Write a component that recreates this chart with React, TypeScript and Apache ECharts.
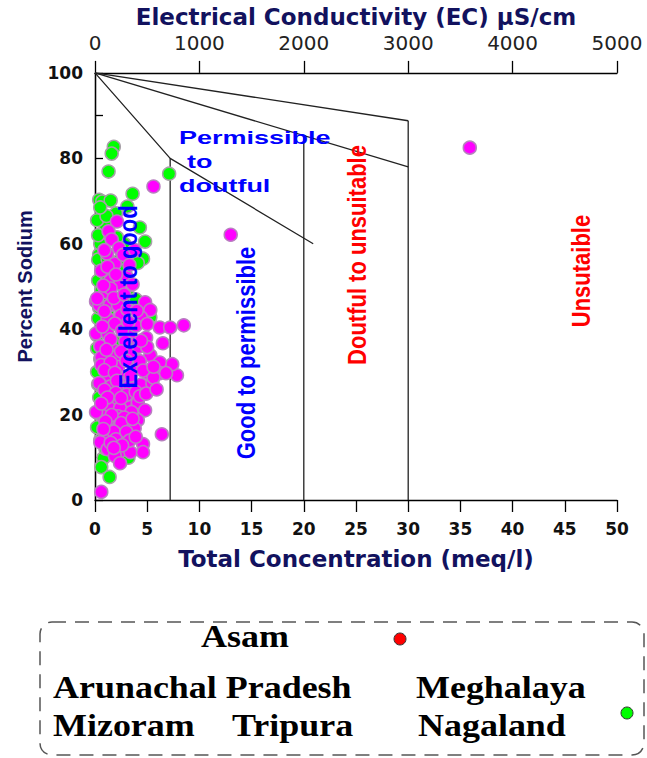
import React, { useEffect, useRef } from "react";
import * as echarts from "echarts";

// EC scale (top axis) ticks
const ecTicks = [0, 1000, 2000, 3000, 4000, 5000];

// Scatter data: [Total Concentration meq/l, Percent Sodium]
const greenPoints: number[][] = [
  [1.8, 82.7], [1.6, 81.1], [1.3, 76.9], [7.1, 76.4], [3.6, 71.7], [0.4, 70.3], [0.7, 69.9],
  [1.5, 70.1], [3.1, 68.7], [2.0, 67.1], [0.9, 64.7], [4.3, 63.8], [4.8, 60.5], [0.4, 57.5],
  [0.3, 56.3], [1.2, 56.5], [2.4, 56.3], [4.6, 56.5], [0.3, 51.4], [2.5, 53.7], [0.6, 49],
  [3.4, 47.4], [0.3, 42.5], [5.3, 42.8], [1.9, 37], [0.2, 38.5], [0.5, 33], [0.3, 27.1],
  [0.3, 20.3], [0.5, 14], [0.8, 9.8], [3.2, 9.9], [0.6, 7.7], [1.4, 5.4], [0.2, 35.5],
  [0.4, 45], [0.2, 30], [0.4, 24], [0.2, 17], [1.0, 12], [2.5, 12.5], [1.8, 18], [3.5, 22],
  [0.8, 40], [1.2, 44], [0.5, 60], [2.8, 60], [1.0, 53], [0.7, 47.5], [3.9, 47], [2.8, 42],
  [1.5, 29], [4.1, 55.5], [2.1, 61.5], [0.2, 65.5], [0.3, 62], [1.1, 66.5], [0.5, 68.5],
];

const magentaPoints: number[][] = [
  [35.9, 82.5], [13.0, 62.1], [8.5, 40.9], [6.4, 15.4], [5.6, 73.4], [7.85, 29.2], [7.4, 31.8],
  [6.5, 36.7], [6.2, 40.4], [7.2, 40.4],
  [2.1, 65.2], [1.3, 62.9], [1.6, 61], [1.15, 57.7], [2.3, 59], [3.8, 58.5], [1.9, 55.3],
  [0.6, 53.7], [1.5, 51.4], [2.4, 50.6], [3.0, 52.4], [1.0, 48.7], [1.5, 49.5], [0.1, 46.5],
  [0.4, 45.6], [1.4, 45.6], [2.2, 45.6], [4.8, 46.3], [5.3, 44.5], [1.2, 42.5], [2.5, 43.2],
  [4.4, 42.8], [0.1, 39], [1.2, 39], [3.4, 38.5], [4.9, 38], [0.5, 36], [1.8, 35], [3.4, 36.5],
  [0.6, 33.4], [1.9, 33.4], [3.4, 34.3], [5.3, 33.9], [6.2, 32.2], [0.6, 31.6], [2.2, 31.1],
  [3.8, 30.9], [5.1, 29.7], [6.2, 29.7], [1.2, 29.2], [2.8, 28.5], [0.4, 27.4], [1.5, 26.6],
  [2.6, 27.1], [3.3, 26.6], [4.4, 27], [5.5, 27.3], [5.6, 28.7],
  [1.7, 23.4], [2.9, 22.9], [4.1, 22.9], [1.4, 21.5], [2.4, 21.5], [4.8, 21], [0.8, 19.6],
  [2.2, 19.6], [4.1, 18.7], [3.2, 17.6], [1.3, 17.3], [2.2, 16.8], [3.8, 16.8], [1.0, 15.2],
  [2.7, 15], [0.5, 13.5], [1.2, 11.9], [2.4, 11.4], [3.4, 11.2], [4.6, 13.1], [4.6, 11.2],
  [1.9, 10.3], [2.4, 8.6], [0.6, 1.9], [0.1, 20.6], [0.2, 47.2],
  [0.9, 58.5], [2.7, 57.4], [1.2, 54.6], [3.3, 55], [0.8, 50.2], [2.0, 52.8], [3.6, 50.5],
  [1.8, 47.3], [2.8, 48.1], [0.9, 44.2], [3.1, 44.6], [1.9, 41.3], [3.9, 40.8], [0.7, 40.6],
  [2.6, 39.7], [1.5, 37.6], [2.9, 37.1], [4.2, 35.9], [1.1, 35.2], [2.5, 34.8], [4.3, 32.5],
  [1.5, 32.2], [3.0, 32.6], [0.9, 30.4], [1.9, 29.8], [3.4, 29.1], [4.6, 30.3], [2.1, 27.9],
  [0.9, 25.8], [2.0, 25.1], [3.0, 24.6], [3.9, 25.3], [1.2, 24], [2.5, 23.9], [0.6, 22.6],
  [3.5, 20.6], [1.6, 19.9], [2.8, 19.3], [1.0, 18.4], [2.5, 18], [3.6, 19], [1.8, 16],
  [3.0, 15.9], [0.8, 16.6], [2.0, 14.2], [3.3, 13.9], [1.5, 13.4], [2.6, 12.8], [1.8, 12.2],
  [3.9, 14.8], [4.3, 24.3], [4.9, 24.9], [5.9, 25.9], [5.0, 35.8], [5.6, 31.2], [4.4, 37.3],
  [4.0, 44.3], [3.2, 41.6], [5.0, 41.2], [6.8, 29.7],
];

// Classification boundary lines (meq/l, %Na)
const boundaryLines: number[][][] = [
  [[0, 100], [7.2, 80], [20.9, 60]],
  [[0, 100], [30, 78]],
  [[0, 100], [30, 88.8]],
  [[7.2, 80], [7.2, 0]],
  [[20, 85.3], [20, 0]],
  [[30, 88.8], [30, 0]],
];

const legendRow1 = ["Asam"];
const legendRow2 = ["Arunachal Pradesh", "Meghalaya"];
const legendRow3 = ["Mizoram", "Tripura", "Nagaland"];

const NAVY = "#12125e";
const SANS = '"Liberation Sans", Arial, sans-serif';
const WIDE = '"DejaVu Sans", sans-serif';
const SERIF = '"Liberation Serif", "Times New Roman", serif';

export default function App() {
  const ref = useRef<HTMLDivElement>(null);
  useEffect(() => {
    if (!ref.current) return;
    const chart = echarts.init(ref.current, undefined, { renderer: "svg" });
    const blueFont = `bold 22px ${SANS}`;
    const rotText = (text: string, x: number, y: number, fill: string) => ({
      type: "text",
      x,
      y,
      z: 100,
      rotation: Math.PI / 2,
      scaleY: 1.2,
      style: { text, fill, font: blueFont, textAlign: "center", textVerticalAlign: "middle", align: "center", verticalAlign: "middle" },
    });
    const legText = (text: string, x: number, y: number) => ({
      type: "text",
      x,
      y,
      z: 100,
      scaleX: 1.16,
      style: { text, fill: "#000", font: `bold 31px ${SERIF}`, textAlign: "left", textVerticalAlign: "middle", align: "left", verticalAlign: "middle" },
    });
    const permText = (text: string, x: number, y: number) => ({
      type: "text",
      x,
      y,
      z: 100,
      scaleX: 1.42,
      style: { text, fill: "#0000ff", font: `bold 19px ${SANS}`, textAlign: "left", textVerticalAlign: "middle", align: "left", verticalAlign: "middle" },
    });

    chart.setOption({
      animation: false,
      backgroundColor: "#ffffff",
      grid: { left: 95, right: 30, top: 72, bottom: 258, containLabel: false },
      xAxis: [
        {
          type: "value",
          position: "bottom",
          min: 0,
          max: 50,
          interval: 5,
          name: "Total Concentration (meq/l)",
          nameLocation: "middle",
          nameGap: 47,
          nameTextStyle: { color: NAVY, fontWeight: "bold", fontSize: 23, fontFamily: WIDE },
          axisLine: { show: true, lineStyle: { color: "#000", width: 1.3 } },
          axisTick: { show: true, inside: false, length: 12, lineStyle: { color: "#000", width: 1.3 } },
          axisLabel: { color: "#111", fontWeight: "bold", fontSize: 17, fontFamily: WIDE, margin: 20 },
          splitLine: { show: false },
        },
        {
          type: "value",
          position: "top",
          min: 0,
          max: 5000,
          interval: 1000,
          name: "Electrical Conductivity (EC) µS/cm",
          nameLocation: "middle",
          nameGap: 44,
          nameTextStyle: { color: NAVY, fontWeight: "bold", fontSize: 23, fontFamily: WIDE },
          axisLine: { show: true, onZero: false, lineStyle: { color: "#000", width: 1.3 } },
          axisTick: { show: true, inside: false, length: 12, lineStyle: { color: "#000", width: 1.3 } },
          axisLabel: {
            color: "#222",
            fontSize: 20,
            fontFamily: WIDE,
            margin: 20,
            formatter: (v: number) => (ecTicks.includes(v) ? String(v) : ""),
          },
          splitLine: { show: false },
        },
      ],
      yAxis: [
        {
          type: "value",
          min: 0,
          max: 100,
          interval: 10,
          name: "Percent Sodium",
          nameLocation: "middle",
          nameGap: 60,
          nameRotate: 90,
          nameTextStyle: { color: NAVY, fontWeight: "bold", fontSize: 20, fontFamily: SANS },
          axisLine: { show: true, lineStyle: { color: "#000", width: 1.3 } },
          axisTick: { show: true, inside: true, length: 8, lineStyle: { color: "#000", width: 1.3 } },
          axisLabel: {
            color: "#111",
            fontWeight: "bold",
            fontSize: 17,
            fontFamily: WIDE,
            margin: 12,
            formatter: (v: number) => (v % 20 === 0 ? String(v) : ""),
          },
          splitLine: { show: false },
        },
        {
          type: "value",
          position: "right",
          min: 0,
          max: 100,
          interval: 10,
          axisLine: { show: true, lineStyle: { color: "#000", width: 1.3 } },
          axisTick: { show: false },
          axisLabel: { show: false },
          splitLine: { show: false },
        },
      ],
      series: [
        ...boundaryLines.map((seg, i) => ({
          name: "boundary" + i,
          type: "line",
          xAxisIndex: 0,
          yAxisIndex: 0,
          data: seg,
          symbol: "none",
          silent: true,
          lineStyle: { color: "#222", width: 1.3 },
          z: 1,
        })),
        {
          name: "Meghalaya / Nagaland",
          type: "scatter",
          xAxisIndex: 0,
          yAxisIndex: 0,
          data: greenPoints,
          symbolSize: 13,
          itemStyle: { color: "#00ff00", borderColor: "#a8a0a8", borderWidth: 1.5, opacity: 1 },
          z: 3,
        },
        {
          name: "Asam",
          type: "scatter",
          xAxisIndex: 0,
          yAxisIndex: 0,
          data: magentaPoints,
          symbolSize: 13,
          itemStyle: { color: "#ff00ff", borderColor: "#b880c0", borderWidth: 1.5, opacity: 1 },
          z: 4,
        },
        {
          name: "ec",
          type: "line",
          xAxisIndex: 1,
          yAxisIndex: 1,
          data: [],
          symbol: "none",
        },
      ],
      graphic: [
        permText("Permissible", 179, 137),
        permText("to", 187, 161),
        permText("doutful", 179, 185),
        rotText("Excellent to good", 128, 297, "#0000ff"),
        rotText("Good to permissible", 246, 353, "#0000ff"),
        rotText("Doutful to unsuitable", 357, 255, "#ff0000"),
        rotText("Unsutaible", 581, 271, "#ff0000"),
        {
          type: "rect",
          z: 100,
          shape: { x: 40, y: 622, width: 604, height: 133, r: 12 },
          style: { fill: "none", stroke: "#555", lineWidth: 1.5, lineDash: [14, 9] },
        },
        legText(legendRow1[0], 201, 636),
        legText(legendRow2[0], 53, 687),
        legText(legendRow2[1], 416, 687),
        legText(legendRow3[0], 53, 725),
        legText(legendRow3[1], 232, 725),
        legText(legendRow3[2], 418, 725),
        {
          type: "circle",
          z: 100,
          shape: { cx: 400, cy: 639, r: 6 },
          style: { fill: "#ff0000", stroke: "#333", lineWidth: 1 },
        },
        {
          type: "circle",
          z: 100,
          shape: { cx: 627, cy: 713, r: 6 },
          style: { fill: "#00ff00", stroke: "#333", lineWidth: 1 },
        },
      ],
    });
    return () => chart.dispose();
  }, []);
  return (
    <div
      ref={ref}
      style={{ position: "fixed", left: 0, top: 0, width: 647, height: 758, background: "#fff" }}
    />
  );
}
